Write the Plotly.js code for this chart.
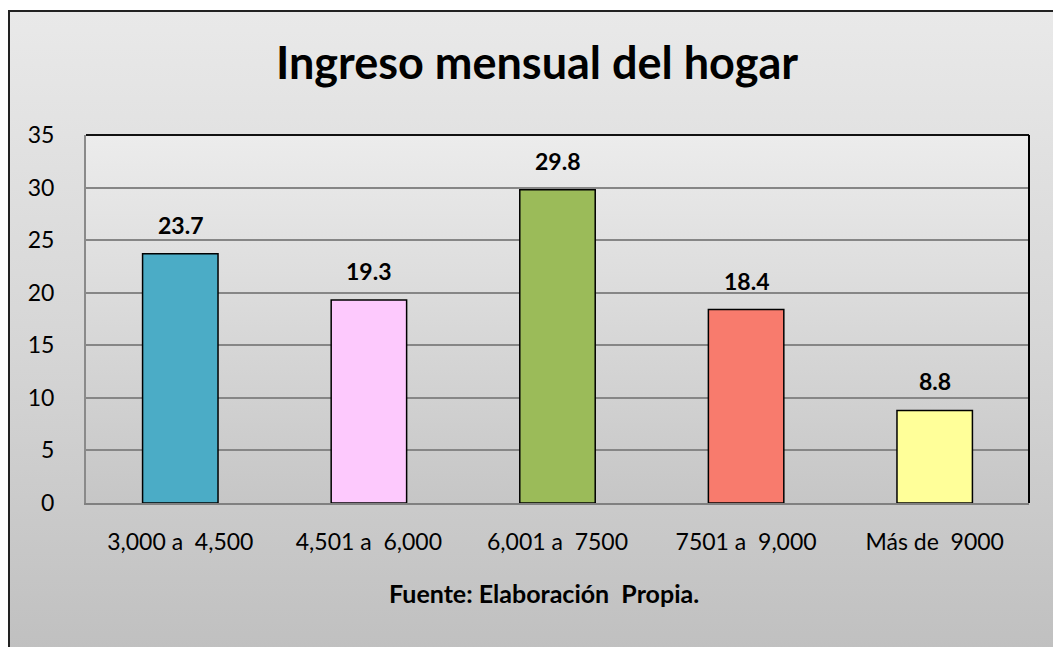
<!DOCTYPE html>
<html>
<head>
<meta charset="utf-8">
<script src="https://cdn.plot.ly/plotly-3.0.1.min.js"></script>
<style>
  html, body { margin:0; padding:0; width:1053px; height:647px; overflow:hidden; background:#ffffff; }
  #frame { position:absolute; left:8px; top:10px; width:1100px; height:700px;
           border-top:2px solid #222; border-left:2px solid #222; box-sizing:border-box;
           background:linear-gradient(to bottom, #e9e9e9 0px, #d6d6d6 330px, #c0c0c0 637px); }
  #chart { position:absolute; left:0; top:0; width:1053px; height:647px; }
</style>
</head>
<body>
<div id="frame"></div>
<div id="chart"></div>
<script>
const categories = ["3,000 a \u00a04,500", "4,501 a \u00a06,000", "6,001 a \u00a07500", "7501 a \u00a09,000", "Más de \u00a09000"];
const values = [23.7, 19.3, 29.8, 18.4, 8.8];
const labels = ["23.7", "19.3", "29.8", "18.4", "8.8"];
const barColors = ["#4bacc6", "#fdc9fd", "#9bbb59", "#f87b6d", "#ffff99"];
const yTicks = [0, 5, 10, 15, 20, 25, 30, 35];
const titleText = "Ingreso mensual del hogar";
const sourceText = "Fuente: Elaboración \u00a0Propia.";

const gradSvg = '<svg xmlns="http://www.w3.org/2000/svg" width="10" height="100" preserveAspectRatio="none">' +
  '<defs><linearGradient id="g" x1="0" y1="0" x2="0" y2="1">' +
  '<stop offset="0" stop-color="#ececec"/><stop offset="1" stop-color="#c6c6c6"/></linearGradient></defs>' +
  '<rect width="10" height="100" fill="url(#g)"/></svg>';
const gradUri = 'data:image/svg+xml;base64,' + btoa(gradSvg);

const font = "Lato, 'Open Sans', sans-serif";

const trace = {
  type: 'bar',
  x: categories,
  y: values,
  marker: { color: barColors, line: { color: '#000000', width: 1.5 } },
  hoverinfo: 'none'
};

const annotations = categories.map((c, i) => ({
  x: c, y: values[i], xref: 'x', yref: 'y',
  text: '<b>' + labels[i] + '</b>', showarrow: false,
  yanchor: 'bottom', yshift: 13,
  font: { family: font, size: 23, color: '#000' }
}));
annotations.push({
  x: 0.5, y: 0, xref: 'paper', yref: 'paper', xanchor: 'center', yanchor: 'middle',
  yshift: -90, xshift: -14, showarrow: false, text: '<b>' + sourceText + '</b>',
  font: { family: font, size: 25, color: '#000' }
});

const layout = {
  width: 1053, height: 647,
  margin: { l: 86, r: 24, t: 135, b: 144, pad: 0 },
  paper_bgcolor: 'rgba(0,0,0,0)',
  plot_bgcolor: 'rgba(0,0,0,0)',
  showlegend: false,
  bargap: 0.6,
  title: {
    text: '<b>' + titleText + '</b>',
    x: 537 / 1053, xanchor: 'center', xref: 'container',
    y: 1 - 63 / 647, yanchor: 'middle', yref: 'container',
    font: { family: font, size: 45, color: '#000' }
  },
  xaxis: {
    type: 'category',
    showgrid: false,
    showline: true, linecolor: '#808080', linewidth: 2,
    ticks: 'outside', ticklen: 17, tickcolor: 'rgba(0,0,0,0)',
    tickfont: { family: font, size: 23, color: '#000' },
    fixedrange: true
  },
  yaxis: {
    range: [0, 35],
    tickvals: yTicks,
    ticktext: yTicks.map(String),
    showgrid: true, gridcolor: '#868686', gridwidth: 2,
    zeroline: false,
    showline: true, linecolor: '#8a8a8a', linewidth: 2,
    ticks: 'outside', ticklen: 25, tickcolor: 'rgba(0,0,0,0)',
    tickfont: { family: font, size: 23, color: '#000' },
    fixedrange: true
  },
  images: [{
    source: gradUri, xref: 'paper', yref: 'paper', x: 0, y: 1, sizex: 1, sizey: 1,
    xanchor: 'left', yanchor: 'top', sizing: 'stretch', layer: 'below'
  }],
  shapes: [
    { type: 'line', xref: 'paper', yref: 'paper', x0: 0, x1: 1, y0: 1, y1: 1, line: { color: '#111', width: 2 } },
    { type: 'line', xref: 'paper', yref: 'paper', x0: 1, x1: 1, y0: 0, y1: 1, line: { color: '#000', width: 2 } }
  ],
  annotations: annotations
};

Plotly.newPlot('chart', [trace], layout, { staticPlot: true, displayModeBar: false });
</script>
</body>
</html>
